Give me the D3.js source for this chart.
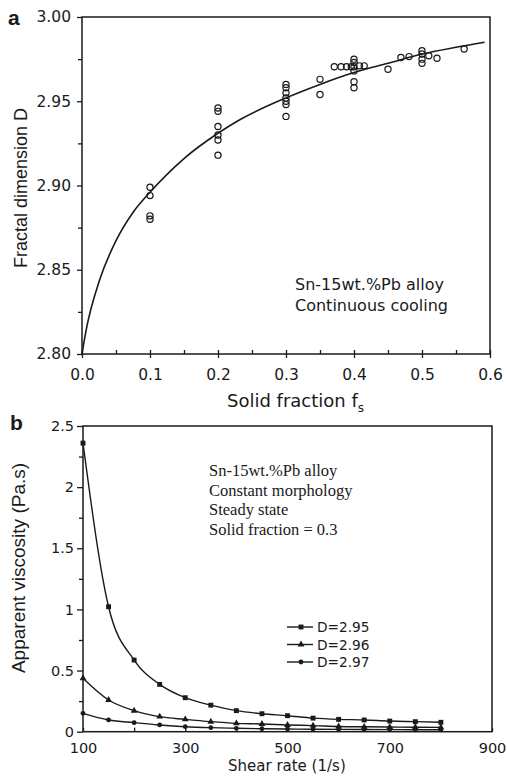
<!DOCTYPE html>
<html><head><meta charset="utf-8">
<script src="https://cdn.jsdelivr.net/npm/d3@7"></script>
<style>body{margin:0;background:#fff}</style>
</head><body>
<svg id="c" width="507" height="777"></svg>
<script>
// ---------- Panel a data ----------
const fsTicks = [0, 0.1, 0.2, 0.3, 0.4, 0.5, 0.6];
const fsMinor = [0.05, 0.15, 0.25, 0.35, 0.45, 0.55];
const dTicks = [2.80, 2.85, 2.90, 2.95, 3.00];
const dMinor = [2.825, 2.875, 2.925, 2.975];
const scatterFs = [0.1,0.1,0.1,0.1,
  0.2,0.2,0.2,0.2,0.2,0.2,
  0.3,0.3,0.3,0.3,0.3,0.3,0.3,
  0.35,0.35,
  0.371,0.381,0.389,0.396,0.408,0.415,
  0.40,0.40,0.40,0.40,0.40,0.40,
  0.45,0.469,0.481,
  0.50,0.50,0.50,0.50,
  0.51,0.522,0.562];
const scatterD = [2.899,2.894,2.882,2.880,
  2.946,2.944,2.935,2.930,2.927,2.918,
  2.960,2.958,2.955,2.952,2.950,2.948,2.941,
  2.963,2.954,
  2.9705,2.9705,2.9705,2.9705,2.971,2.971,
  2.975,2.973,2.9705,2.968,2.9616,2.958,
  2.969,2.976,2.9765,
  2.980,2.978,2.975,2.9725,
  2.977,2.9755,2.981];
const fitFs = [0, 0.006, 0.026, 0.051, 0.075, 0.10, 0.15, 0.2, 0.232, 0.3, 0.35, 0.4, 0.45, 0.5, 0.55, 0.592];
const fitD  = [2.800, 2.814, 2.844, 2.868, 2.884, 2.896, 2.916, 2.931, 2.939, 2.952, 2.960, 2.967, 2.9725, 2.978, 2.982, 2.985];

// ---------- Panel b data ----------
const shearTicks = [100, 300, 500, 700, 900];
const shearMinor = [200, 400, 600, 800];
const viscTicks = [0, 0.5, 1, 1.5, 2, 2.5];
const viscMinor = [0.25, 0.75, 1.25, 1.75, 2.25];
const shearRates = [100,150,200,250,300,350,400,450,500,550,600,650,700,750,800];
const visc295 = [2.36,1.022,0.586,0.387,0.278,0.217,0.172,0.147,0.131,0.111,0.101,0.096,0.087,0.082,0.077];
const visc296 = [0.437,0.259,0.172,0.123,0.101,0.082,0.068,0.063,0.055,0.050,0.043,0.040,0.038,0.036,0.035];
const visc297 = [0.150,0.096,0.074,0.055,0.041,0.033,0.028,0.024,0.022,0.020,0.019,0.018,0.017,0.016,0.016];
const seriesNames = ["D=2.95", "D=2.96", "D=2.97"];

const svg = d3.select("#c");
const ink = "#1a1a1a";
const sans = "DejaVu Sans";

function styleAxis(g, size) {
  g.select(".domain").remove();
  g.selectAll("line").attr("stroke", ink).attr("stroke-width", 1.3);
  g.selectAll("text").attr("font-family", sans).attr("font-size", size).attr("fill", ink);
}

// ===== Panel a =====
const xA = d3.scaleLinear().domain([0, 0.6]).range([82, 490]);
const yA = d3.scaleLinear().domain([2.80, 3.00]).range([354, 17]);

svg.append("g").attr("transform", "translate(82,0)")
  .call(d3.axisLeft(yA).tickValues(dTicks).tickSize(5).tickPadding(6).tickFormat(d3.format(".2f")))
  .call(g => styleAxis(g, 15.5));
svg.append("g").attr("transform", "translate(82,0)")
  .call(d3.axisLeft(yA).tickValues(dMinor).tickSize(4).tickFormat(""))
  .call(g => styleAxis(g, 10));
svg.append("g").attr("transform", "translate(0,354)")
  .call(d3.axisBottom(xA).tickValues(fsTicks).tickSize(4).tickFormat(d3.format(".1f")))
  .call(g => { styleAxis(g, 15.5); g.selectAll("line").attr("y1", -4); g.selectAll("text").attr("y", 15); });
svg.append("g").attr("transform", "translate(0,354)")
  .call(d3.axisBottom(xA).tickValues(fsMinor).tickSize(-4).tickFormat(""))
  .call(g => styleAxis(g, 10));

svg.append("rect").attr("x", xA(0)).attr("y", yA(3.0))
  .attr("width", xA(0.6) - xA(0)).attr("height", yA(2.8) - yA(3.0))
  .attr("fill", "none").attr("stroke", ink).attr("stroke-width", 1.5);

svg.append("path")
  .datum(fitFs.map((f, i) => [f, fitD[i]]))
  .attr("d", d3.line().x(d => xA(d[0])).y(d => yA(d[1])).curve(d3.curveMonotoneX))
  .attr("fill", "none").attr("stroke", ink).attr("stroke-width", 1.6);

svg.append("g").selectAll("circle")
  .data(scatterFs.map((f, i) => [f, scatterD[i]]))
  .join("circle")
  .attr("cx", d => xA(d[0])).attr("cy", d => yA(d[1])).attr("r", 3.1)
  .attr("fill", "none").attr("stroke", ink).attr("stroke-width", 1.2);

svg.append("text").attr("x", 8).attr("y", 25).text("a")
  .attr("font-family", "Liberation Sans").attr("font-weight", "bold").attr("font-size", 21).attr("fill", ink);

svg.append("text").attr("transform", "translate(27,188) rotate(-90)")
  .attr("text-anchor", "middle").attr("font-family", "Liberation Sans").attr("font-size", 18).attr("fill", ink)
  .text("Fractal dimension D");

const xl = svg.append("text").attr("x", 227).attr("y", 407)
  .attr("font-family", sans).attr("font-size", 18).attr("fill", ink);
xl.append("tspan").text("Solid fraction f");
xl.append("tspan").attr("font-size", 12).attr("dy", 5).text("s");

svg.append("g").selectAll("text")
  .data(["Sn-15wt.%Pb alloy", "Continuous cooling"])
  .join("text")
  .attr("x", 295).attr("y", (d, i) => 290 + i * 20.5)
  .attr("font-family", sans).attr("font-size", 16).attr("fill", ink)
  .text(d => d);

// ===== Panel b =====
const xB = d3.scaleLinear().domain([100, 900]).range([83, 492]);
const yB = d3.scaleLinear().domain([0, 2.5]).range([731.7, 426]);

svg.append("g").attr("transform", "translate(83,0)")
  .call(d3.axisLeft(yB).tickValues(viscTicks).tickSize(6).tickPadding(3).tickFormat(d3.format("~g")))
  .call(g => styleAxis(g, 14.5));
svg.append("g").attr("transform", "translate(83,0)")
  .call(d3.axisLeft(yB).tickValues(viscMinor).tickSize(4).tickFormat(""))
  .call(g => styleAxis(g, 10));
svg.append("g").attr("transform", "translate(0,731.7)")
  .call(d3.axisBottom(xB).tickValues(shearTicks).tickSize(-4).tickFormat(d3.format("d")))
  .call(g => { styleAxis(g, 14.5); g.selectAll("text").attr("y", 11); });
svg.append("g").attr("transform", "translate(0,731.7)")
  .call(d3.axisBottom(xB).tickValues(shearMinor).tickSize(-4).tickFormat(""))
  .call(g => styleAxis(g, 10));

svg.append("rect").attr("x", xB(100)).attr("y", yB(2.5))
  .attr("width", xB(900) - xB(100)).attr("height", yB(0) - yB(2.5))
  .attr("fill", "none").attr("stroke", ink).attr("stroke-width", 1.5);

const series = [visc295, visc296, visc297];
const symbols = [d3.symbolSquare, d3.symbolTriangle, d3.symbolCircle];
const symSizes = [24, 20, 18];
const lineGen = d3.line().x(d => xB(d[0])).y(d => yB(d[1])).curve(d3.curveMonotoneX);

series.forEach((vals, k) => {
  const pts = shearRates.map((s, i) => [s, vals[i]]);
  svg.append("path").datum(pts).attr("d", lineGen)
    .attr("fill", "none").attr("stroke", ink).attr("stroke-width", 1.4);
  svg.append("g").selectAll("path").data(pts).join("path")
    .attr("transform", d => `translate(${xB(d[0])},${yB(d[1])})`)
    .attr("d", d3.symbol(symbols[k], symSizes[k]))
    .attr("fill", ink);
});

// legend
const leg = svg.append("g");
seriesNames.forEach((name, k) => {
  const by = 632 + k * 17.5;
  const cy = by - 5;
  leg.append("line").attr("x1", 287).attr("x2", 313).attr("y1", cy).attr("y2", cy)
    .attr("stroke", ink).attr("stroke-width", 1.4);
  leg.append("path").attr("transform", `translate(301,${cy})`)
    .attr("d", d3.symbol(symbols[k], symSizes[k])).attr("fill", ink);
  leg.append("text").attr("x", 317).attr("y", by).text(name)
    .attr("font-family", sans).attr("font-size", 13.7).attr("fill", ink);
});

svg.append("g").selectAll("text")
  .data(["Sn-15wt.%Pb alloy", "Constant morphology", "Steady state", "Solid fraction = 0.3"])
  .join("text")
  .attr("x", 209).attr("y", (d, i) => 476 + i * 19.5)
  .attr("font-family", "Liberation Serif").attr("font-size", 16.5).attr("fill", ink)
  .text(d => d);

svg.append("text").attr("x", 10).attr("y", 430).text("b")
  .attr("font-family", "Liberation Sans").attr("font-weight", "bold").attr("font-size", 21).attr("fill", ink);

svg.append("text").attr("transform", "translate(25,568) rotate(-90)")
  .attr("text-anchor", "middle").attr("font-family", "Liberation Sans").attr("font-size", 19).attr("fill", ink)
  .text("Apparent viscosity (Pa.s)");

svg.append("text").attr("x", 228).attr("y", 771)
  .attr("font-family", sans).attr("font-size", 15).attr("fill", ink)
  .text("Shear rate (1/s)");
</script>
</body></html>
